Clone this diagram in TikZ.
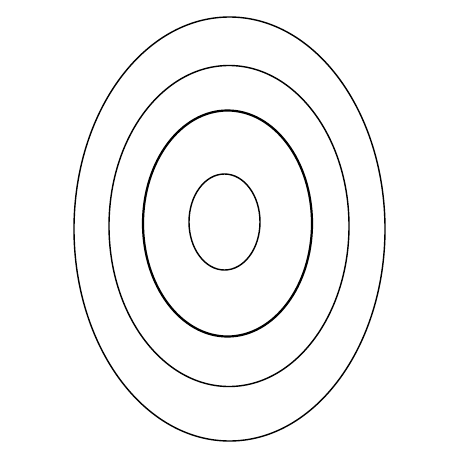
\documentclass[tikz,border=0pt]{standalone}

\begin{document}
\begin{tikzpicture}[
      x=1pt, y=-1pt,
      ring/.style={draw, line width=1.4pt},
      thick ring/.style={draw, line width=2.2pt}
    ]

    \useasboundingbox (0,0) rectangle (453,453);

    \draw[ring] (229.5,229) ellipse [x radius=155.5, y radius=212];
    \draw[ring] (229,226) ellipse [x radius=120, y radius=160.5];
    \draw[thick ring] (227.5,223.5) ellipse [x radius=84.5, y radius=113];
    \draw[ring] (224.5,222) ellipse [x radius=35.5, y radius=48];

  \end{tikzpicture}
\end{document}
